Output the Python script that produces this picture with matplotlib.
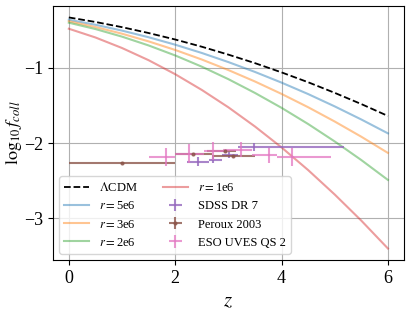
import numpy as np
import matplotlib
matplotlib.use("Agg")
import matplotlib.pyplot as plt

plt.rcParams['font.family'] = ['Liberation Serif', 'DejaVu Serif']
plt.rcParams['mathtext.fontset'] = 'stix'

# Modelos: log10 f_coll en funcion de z
z = [0.0, 0.5, 1.0, 1.5, 2.0, 2.5, 3.0, 3.5, 4.0, 4.5, 5.0, 5.5, 6.0]
f_lcdm = [-0.330, -0.390, -0.459, -0.537, -0.623, -0.719, -0.824, -0.937, -1.060, -1.191, -1.332, -1.481, -1.639]
f_5e6 = [-0.360, -0.427, -0.505, -0.593, -0.692, -0.802, -0.923, -1.054, -1.196, -1.348, -1.512, -1.686, -1.870]
f_3e6 = [-0.380, -0.457, -0.546, -0.648, -0.762, -0.889, -1.029, -1.181, -1.346, -1.523, -1.713, -1.915, -2.130]
f_2e6 = [-0.400, -0.484, -0.585, -0.702, -0.835, -0.984, -1.150, -1.333, -1.531, -1.746, -1.978, -2.225, -2.489]
f_1e6 = [-0.480, -0.596, -0.736, -0.898, -1.084, -1.293, -1.524, -1.779, -2.057, -2.358, -2.683, -3.030, -3.400]

# Observaciones
sdss_z = [2.43, 2.71, 3.01, 3.48]
sdss_f = [-2.25, -2.23, -2.16, -2.05]
sdss_zerr = [[0.21, 0.08, 0.13, 0.29], [0.20, 0.17, 0.18, 1.69]]
sdss_ferr = [0.06, 0.04, 0.04, 0.05]

peroux_z = [1.0, 2.34, 2.94, 3.09]
peroux_f = [-2.26, -2.14, -2.11, -2.17]
peroux_zerr = [[1.0, 0.34, 0.35, 0.39], [1.0, 0.36, 0.20, 0.41]]
peroux_ferr = [0.01, 0.01, 0.01, 0.01]

eso_z = [1.83, 2.26, 2.71, 3.23, 3.76, 4.19]
eso_f = [-2.19, -2.14, -2.11, -2.09, -2.16, -2.19]
eso_zerr = [[0.33, 0.26, 0.16, 0.33, 0.31, 0.27], [0.17, 0.29, 0.29, 0.22, 0.16, 0.73]]
eso_ferr = [0.12, 0.13, 0.12, 0.10, 0.10, 0.12]

fig, ax = plt.subplots(figsize=(4.13, 3.10), dpi=100)
fig.subplots_adjust(left=0.128, right=0.978, top=0.981, bottom=0.161)

ax.plot(z, f_lcdm, 'k--', lw=1.3, label=r'$\Lambda$CDM')
ax.plot(z, f_5e6, color='tab:blue', alpha=0.45, lw=1.5, label=r'$r=$5e6')
ax.plot(z, f_3e6, color='tab:orange', alpha=0.45, lw=1.5, label=r'$r=$3e6')
ax.plot(z, f_2e6, color='tab:green', alpha=0.45, lw=1.5, label=r'$r=$2e6')
ax.plot(z, f_1e6, color='tab:red', alpha=0.45, lw=1.5, label=r'$r=$1e6')

ax.errorbar(sdss_z, sdss_f, xerr=sdss_zerr, yerr=sdss_ferr, fmt='none',
            ecolor='tab:purple', elinewidth=1.5, alpha=0.8, label='SDSS DR 7')
ax.errorbar(peroux_z, peroux_f, xerr=peroux_zerr, yerr=peroux_ferr, fmt='.',
            color='tab:brown', ms=4, elinewidth=1.5, alpha=0.8, label='Peroux 2003')
ax.errorbar(eso_z, eso_f, xerr=eso_zerr, yerr=eso_ferr, fmt='none',
            ecolor='tab:pink', elinewidth=1.5, alpha=0.75, label='ESO UVES QS 2')

ax.set_xlabel(r'$z$', fontsize=15)
ax.set_ylabel(r'$\log_{10} f_{coll}$', fontsize=13)
ax.yaxis.set_label_coords(-0.082, 0.5)
ax.tick_params(labelsize=13)
ax.set_xticks([0, 2, 4, 6])
ax.set_yticks([-1, -2, -3])
ax.grid(True)
ax.legend(loc='lower left', ncol=2, fontsize=9)

plt.savefig("out.png", dpi=100)
